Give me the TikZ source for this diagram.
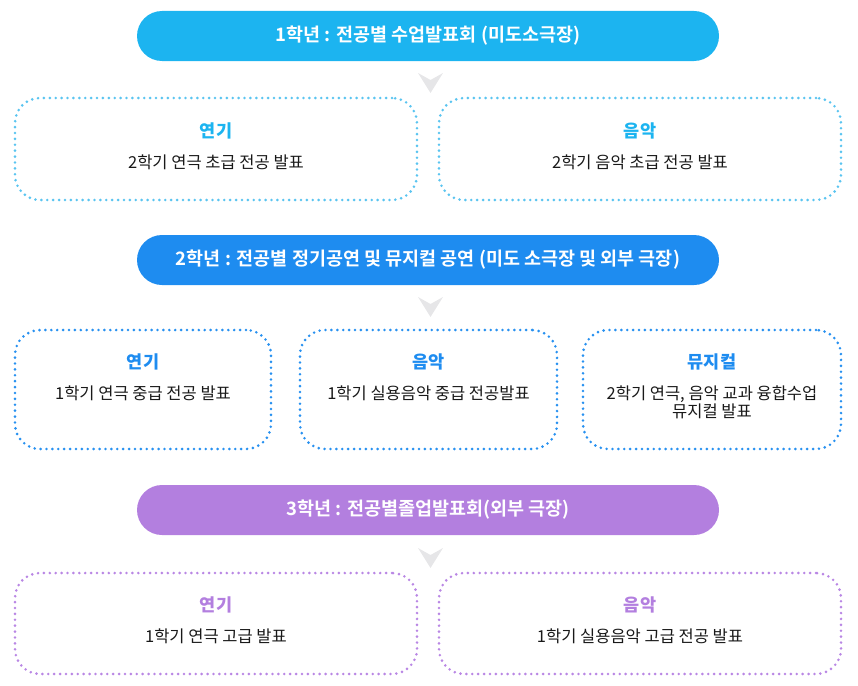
\documentclass[tikz,border=0pt]{standalone}
\usepackage{fontspec}
\setmainfont{Noto Sans CJK KR}
\newfontfamily\bannerfont{Noto Sans CJK KR Bold}
\definecolor{bOne}{RGB}{28,180,240}
\definecolor{dOne}{RGB}{90,196,240}
\definecolor{bTwo}{RGB}{30,140,240}
\definecolor{dTwo}{RGB}{40,145,240}
\definecolor{bThree}{RGB}{179,127,223}
\definecolor{dThree}{RGB}{185,135,228}
\definecolor{chev}{RGB}{230,230,232}
\definecolor{bodytxt}{RGB}{25,25,25}
\tikzset{
  banner/.style={fill=#1, rounded corners=25pt, minimum width=582pt, minimum height=50pt, inner sep=0pt,
    text=white, font=\bannerfont\fontsize{18.5pt}{20pt}\selectfont},
  dotbox/.style={draw=#1, line width=2.9pt, dash pattern=on 0pt off 5.9pt, line cap=round,
    rounded corners=25pt, inner sep=0pt},
  ttl/.style={text=#1, font=\fontsize{17.5pt}{20pt}\selectfont\bfseries, inner sep=0pt},
  bodyt/.style={text=bodytxt, font=\fontsize{16.5pt}{18pt}\selectfont, inner sep=0pt, align=center},
  chevron/.style={fill=chev, draw=none}
}
\newcommand{\chevat}[2]{%
  \fill[chevron] (#1-12.5,#2) -- (#1,#2+7) -- (#1+12.5,#2) -- (#1,#2+20) -- cycle;}
\begin{document}
\begin{tikzpicture}[x=1pt,y=-1pt]
\useasboundingbox (0,0) rectangle (858,685);
% Year 1
\node[banner=bOne] (y1) at (428,36) {1학년 : 전공별 수업발표회 (미도소극장)};
\chevat{430.5}{73}
\node[dotbox=dOne, minimum width=402pt, minimum height=102pt] (a1) at (216,149) {};
\node[dotbox=dOne, minimum width=402pt, minimum height=102pt] (m1) at (640,149) {};
\node[ttl=bOne] (a1t) at (216,131) {연기};
\node[bodyt] (a1b) at (216,162) {2학기 연극 초급 전공 발표};
\node[ttl=bOne] (m1t) at (640,131) {음악};
\node[bodyt] (m1b) at (640,162) {2학기 음악 초급 전공 발표};
% Year 2
\node[banner=bTwo] (y2) at (428,260) {2학년 : 전공별 정기공연 및 뮤지컬 공연 (미도 소극장 및 외부 극장)};
\chevat{430.5}{297}
\node[dotbox=dTwo, minimum width=256pt, minimum height=119pt] (a2) at (143,389.5) {};
\node[dotbox=dTwo, minimum width=257pt, minimum height=119pt] (m2) at (428.5,389.5) {};
\node[dotbox=dTwo, minimum width=258pt, minimum height=119pt] (u2) at (712,389.5) {};
\node[ttl=bTwo] (a2t) at (143,362) {연기};
\node[bodyt] (a2b) at (143,393) {1학기 연극 중급 전공 발표};
\node[ttl=bTwo] (m2t) at (428.5,362) {음악};
\node[bodyt] (m2b) at (428.5,393) {1학기 실용음악 중급 전공발표};
\node[ttl=bTwo] (u2t) at (712,362) {뮤지컬};
\node[bodyt] (u2b) at (712,402) {2학기 연극, 음악 교과 융합수업\\뮤지컬 발표};
% Year 3
\node[banner=bThree] (y3) at (428,510) {3학년 : 전공별졸업발표회(외부 극장)};
\chevat{430.5}{548}
\node[dotbox=dThree, minimum width=402pt, minimum height=101pt] (a3) at (216,623.5) {};
\node[dotbox=dThree, minimum width=402pt, minimum height=101pt] (m3) at (640,623.5) {};
\node[ttl=bThree] (a3t) at (216,605) {연기};
\node[bodyt] (a3b) at (216,636) {1학기 연극 고급 발표};
\node[ttl=bThree] (m3t) at (640,605) {음악};
\node[bodyt] (m3b) at (640,636) {1학기 실용음악 고급 전공 발표};
\end{tikzpicture}
\end{document}
